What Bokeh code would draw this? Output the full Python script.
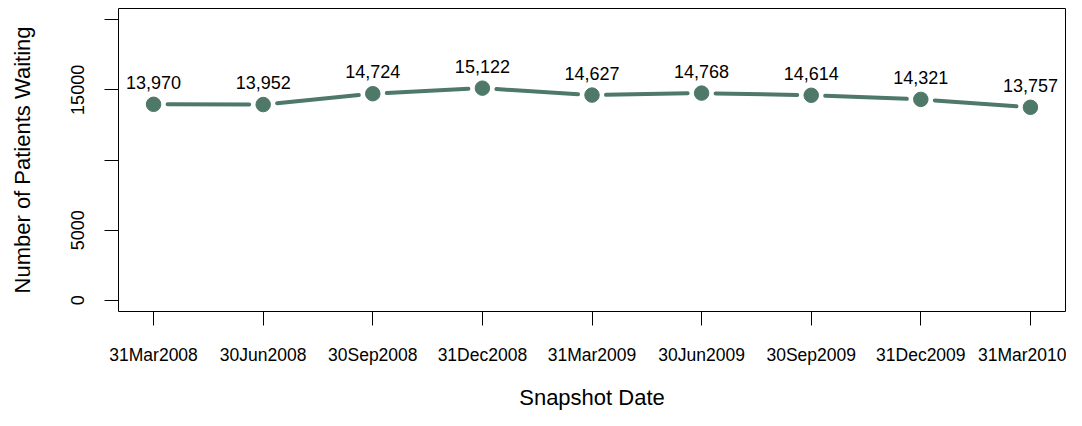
import math
from bokeh.plotting import figure
from bokeh.models import Range1d, FixedTicker
from bokeh.embed import file_html
from bokeh.resources import INLINE
from bokeh.core.properties import value

# ---- data ----
snapshot_dates = ["31Mar2008", "30Jun2008", "30Sep2008", "31Dec2008", "31Mar2009",
                  "30Jun2009", "30Sep2009", "31Dec2009", "31Mar2010"]
patients_waiting = [13970, 13952, 14724, 15122, 14627, 14768, 14614, 14321, 13757]
point_labels = ["13,970", "13,952", "14,724", "15,122", "14,627",
                "14,768", "14,614", "14,321", "13,757"]
y_ticks = [0, 5000, 10000, 15000, 20000]
y_tick_labels = ["0", "5000", "", "15000", ""]

xs = list(range(1, len(snapshot_dates) + 1))

# ---- layout ----
FW, FH = 947, 303
X0, X1 = 0.68, 9.32
Y0, Y1 = -800, 20800
COLOR = "#4E7868"
FONT = "Liberation Sans"

p = figure(frame_width=FW, frame_height=FH,
           x_range=Range1d(X0, X1), y_range=Range1d(Y0, Y1),
           output_backend="svg", toolbar_location=None,
           min_border_left=118, min_border_right=1,
           min_border_top=8, min_border_bottom=0,
           background_fill_color="white", border_fill_color="white")

p.xgrid.visible = False
p.ygrid.visible = False
p.outline_line_color = "black"
p.outline_line_width = 1
p.outline_line_alpha = 1.0

# line segments with gaps around points (like R type="b")
sx = FW / (X1 - X0)
sy = FH / (Y1 - Y0)
gap = 14.0
x0s, y0s, x1s, y1s = [], [], [], []
for i in range(len(xs) - 1):
    dx = xs[i + 1] - xs[i]
    dy = patients_waiting[i + 1] - patients_waiting[i]
    L = math.hypot(dx * sx, dy * sy)
    f = gap / L
    x0s.append(xs[i] + dx * f)
    y0s.append(patients_waiting[i] + dy * f)
    x1s.append(xs[i + 1] - dx * f)
    y1s.append(patients_waiting[i + 1] - dy * f)

p.segment(x0=x0s, y0=y0s, x1=x1s, y1=y1s, line_color=COLOR, line_width=4,
          line_cap="round")
p.scatter(x=xs, y=patients_waiting, size=14.5, fill_color=COLOR, line_color=COLOR)
p.text(x=xs, y=patients_waiting, text=point_labels, text_align="center",
       text_baseline="alphabetic", y_offset=-22,
       text_font=value(FONT), text_font_size="18px", text_color="black")

# x axis
xa = p.xaxis[0]
xa.ticker = FixedTicker(ticks=xs, minor_ticks=[])
xa.major_label_overrides = {x: d for x, d in zip(xs, snapshot_dates)}
xa.axis_label = "Snapshot Date"

# y axis
ya = p.yaxis[0]
ya.ticker = FixedTicker(ticks=y_ticks, minor_ticks=[])
ya.major_label_overrides = {t: l for t, l in zip(y_ticks, y_tick_labels)}
ya.major_label_orientation = "vertical"
ya.axis_label = "Number of Patients Waiting"

for ax in (xa, ya):
    ax.axis_line_color = None
    ax.major_tick_line_color = "black"
    ax.major_tick_line_width = 1
    ax.major_tick_in = 0
    ax.major_tick_out = 14
    ax.minor_tick_line_color = None
    ax.major_label_text_font = FONT
    ax.major_label_text_color = "black"
    ax.axis_label_text_font = FONT
    ax.axis_label_text_font_style = "normal"
    ax.axis_label_text_color = "black"
    ax.axis_label_text_font_size = "22px"

xa.major_label_text_font_size = "17.5px"
xa.major_label_standoff = 19
xa.axis_label_standoff = 17
ya.major_label_text_font_size = "18px"
ya.major_label_standoff = 20
ya.axis_label_standoff = 34

open("out.html", "w").write(file_html(p, INLINE))
